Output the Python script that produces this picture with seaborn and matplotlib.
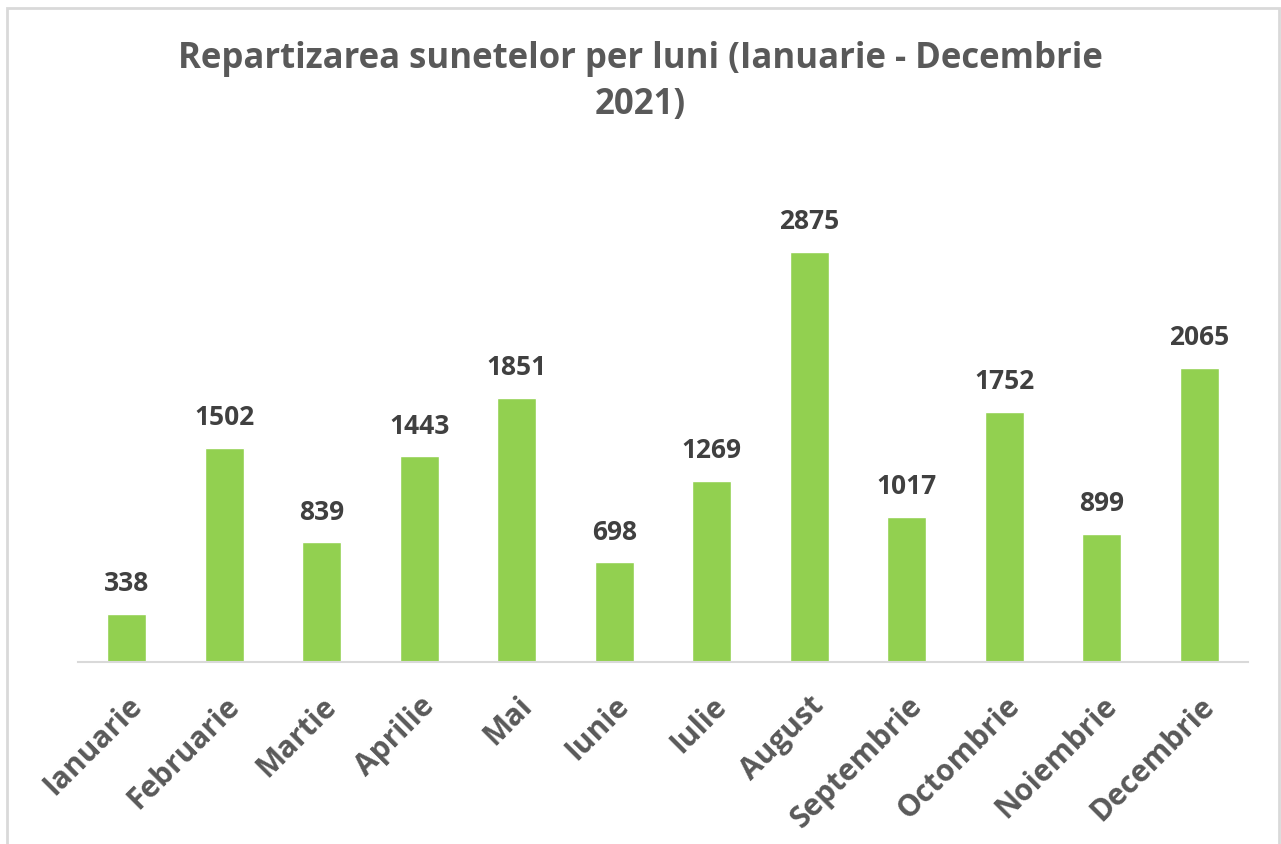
import matplotlib
matplotlib.use("Agg")
import matplotlib.pyplot as plt
import seaborn as sns
import pandas as pd
from matplotlib.patches import Rectangle

months = ["Ianuarie", "Februarie", "Martie", "Aprilie", "Mai", "Iunie", "Iulie",
          "August", "Septembrie", "Octombrie", "Noiembrie", "Decembrie"]
values = [338, 1502, 839, 1443, 1851, 698, 1269, 2875, 1017, 1752, 899, 2065]
title = "Repartizarea sunetelor per luni (Ianuarie - Decembrie\n2021)"

sns.set_theme(style="white")
plt.rcParams['font.family'] = ['Open Sans', 'DejaVu Sans']

GREEN = "#92D050"
TXT = "#595959"
GRID = "#D9D9D9"

df = pd.DataFrame({"luna": months, "val": values})

fig = plt.figure(figsize=(12.81, 8.44), dpi=100)
ax = fig.add_axes([78/1281, 1-662/844, (1248-78)/1281, (662-170)/844])

sns.barplot(data=df, x="luna", y="val", color=GREEN, saturation=1, width=0.4, ax=ax)

ax.set_xlim(-0.5, 11.5)
ax.set_ylim(0, 3450)
ax.set_xlabel("")
ax.set_ylabel("")
ax.set_yticks([])
for s in ["top", "right", "left"]:
    ax.spines[s].set_visible(False)
ax.spines["bottom"].set_color(GRID)
ax.spines["bottom"].set_linewidth(1.5)
ax.tick_params(axis="x", length=0, pad=21)
ax.set_xticks(range(len(months)))
ax.set_xticklabels(months, rotation=45, ha="right", va="top", rotation_mode="anchor",
                   fontsize=21.5, fontweight="bold", color=TXT)

for i, v in enumerate(values):
    ax.annotate(str(v), (i, v), xytext=(0, 12), textcoords="offset points",
                ha="center", va="bottom", fontsize=19, fontweight="bold", color="#404040")

fig.text(0.5, 1-82/844, title, ha="center", va="center", fontsize=25,
         fontweight="bold", color=TXT, linespacing=1.4)

fig.patches.append(Rectangle((7/1281, -0.01), (1279-7)/1281, 1-8/844+0.01,
                             transform=fig.transFigure, fill=False,
                             edgecolor=GRID, linewidth=2))

fig.savefig("out.png", dpi=100, facecolor="white")
